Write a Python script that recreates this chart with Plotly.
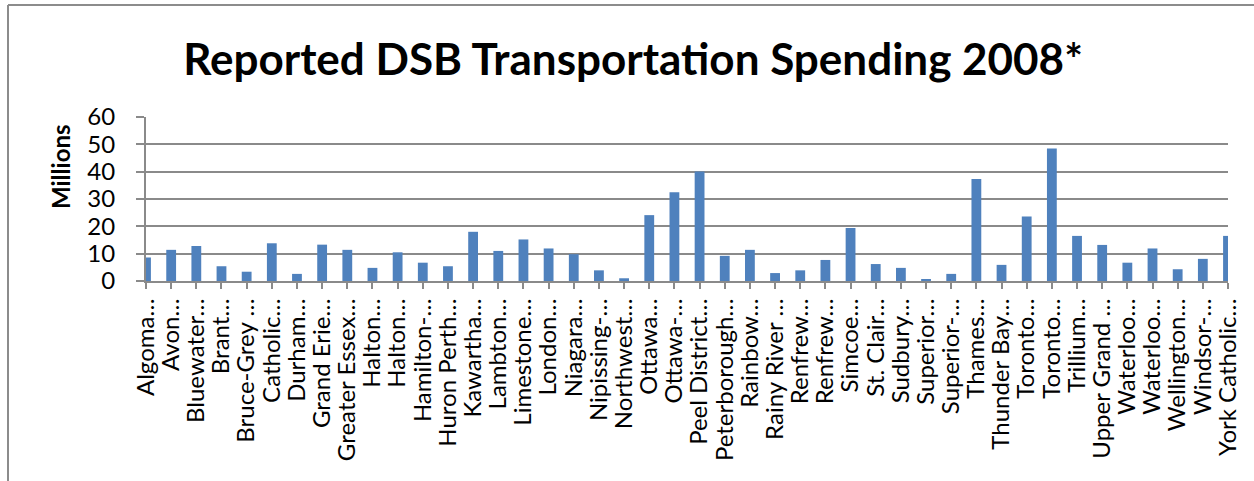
import plotly.graph_objects as go

boards = ["Algoma…", "Avon…", "Bluewater…", "Brant…", "Bruce-Grey …", "Catholic…",
          "Durham…", "Grand Erie…", "Greater Essex…", "Halton…", "Halton…", "Hamilton-…",
          "Huron Perth…", "Kawartha…", "Lambton…", "Limestone…", "London…", "Niagara…",
          "Nipissing-…", "Northwest…", "Ottawa…", "Ottawa-…", "Peel District…",
          "Peterborough…", "Rainbow…", "Rainy River …", "Renfrew…", "Renfrew…", "Simcoe…",
          "St. Clair…", "Sudbury…", "Superior…", "Superior-…", "Thames…", "Thunder Bay…",
          "Toronto…", "Toronto…", "Trillium…", "Upper Grand …", "Waterloo…", "Waterloo…",
          "Wellington…", "Windsor-…", "York Catholic…"]

spending_millions = [8.6, 11.4, 12.8, 5.4, 3.4, 13.8,
                     2.6, 13.3, 11.4, 4.8, 10.5, 6.7,
                     5.4, 18.0, 11.0, 15.2, 11.9, 9.8,
                     3.9, 1.0, 24.1, 32.5, 40.1,
                     9.2, 11.4, 2.9, 3.9, 7.7, 19.4,
                     6.2, 4.8, 0.6, 2.6, 37.3, 5.9,
                     23.6, 48.5, 16.5, 13.2, 6.7, 11.9,
                     4.3, 8.1, 16.5]

y_ticks = [0, 10, 20, 30, 40, 50, 60]

idx = list(range(len(boards)))
FONT = "Lato, Calibri, Carlito, sans-serif"
GRID = "#8a8a8a"

fig = go.Figure(go.Bar(
    x=idx, y=spending_millions,
    marker=dict(color="#4F81BD", line=dict(width=0)),
    width=0.39,
    hovertext=boards,
))

W, H = 1254, 481
L, R, T, B = 146, 26, 117, 200
pw, ph = W - L - R, H - T - B

fig.update_layout(
    width=W, height=H,
    margin=dict(l=L, r=R, t=T, b=B, pad=0, autoexpand=False),
    paper_bgcolor="white", plot_bgcolor="white",
    font=dict(family=FONT, color="#000000", size=22),
    showlegend=False,
    title=dict(text="<b>Reported DSB Transportation Spending 2008*</b>",
               font=dict(family=FONT, size=44, color="#000000"),
               x=633 / W, xref="container", xanchor="center",
               y=1 - 60 / H, yref="container", yanchor="middle", automargin=False),
    xaxis=dict(range=[0, len(boards) - 1], tickmode="array", tickvals=idx, ticktext=boards,
               tickangle=-90, showgrid=False, zeroline=False, automargin=False,
               showline=True, linecolor=GRID, linewidth=2,
               ticks="outside", ticklen=6, tickwidth=1.5, tickcolor=GRID,
               tickfont=dict(family=FONT, size=24, color="#000000")),
    yaxis=dict(range=[0, 60], tickmode="array", tickvals=y_ticks, automargin=False,
               showgrid=True, gridcolor=GRID, gridwidth=2, zeroline=False,
               showline=True, linecolor=GRID, linewidth=2,
               ticks="outside", ticklen=8, tickwidth=1.5, tickcolor=GRID,
               ticklabelstandoff=16,
               tickfont=dict(family=FONT, size=24, color="#000000")),
    annotations=[dict(text="<b>Millions</b>", textangle=-90, showarrow=False,
                      xref="paper", yref="paper",
                      x=(60 - L) / pw, y=(H - B - 166) / ph,
                      xanchor="center", yanchor="middle",
                      font=dict(family=FONT, size=24, color="#000000"))],
    shapes=[
        dict(type="line", xref="paper", yref="paper",
             x0=(8 - L) / pw, x1=(W + 2 - L) / pw,
             y0=(H - B - 5) / ph, y1=(H - B - 5) / ph,
             line=dict(color="#8c8c8c", width=2)),
        dict(type="line", xref="paper", yref="paper",
             x0=(8 - L) / pw, x1=(8 - L) / pw,
             y0=(H - B - 5) / ph, y1=(H - B - H - 5) / ph,
             line=dict(color="#8c8c8c", width=2)),
    ],
)

fig.write_html("out.html", config={"displayModeBar": False},
               post_script="document.body.style.margin='0';document.body.style.overflow='hidden';")
